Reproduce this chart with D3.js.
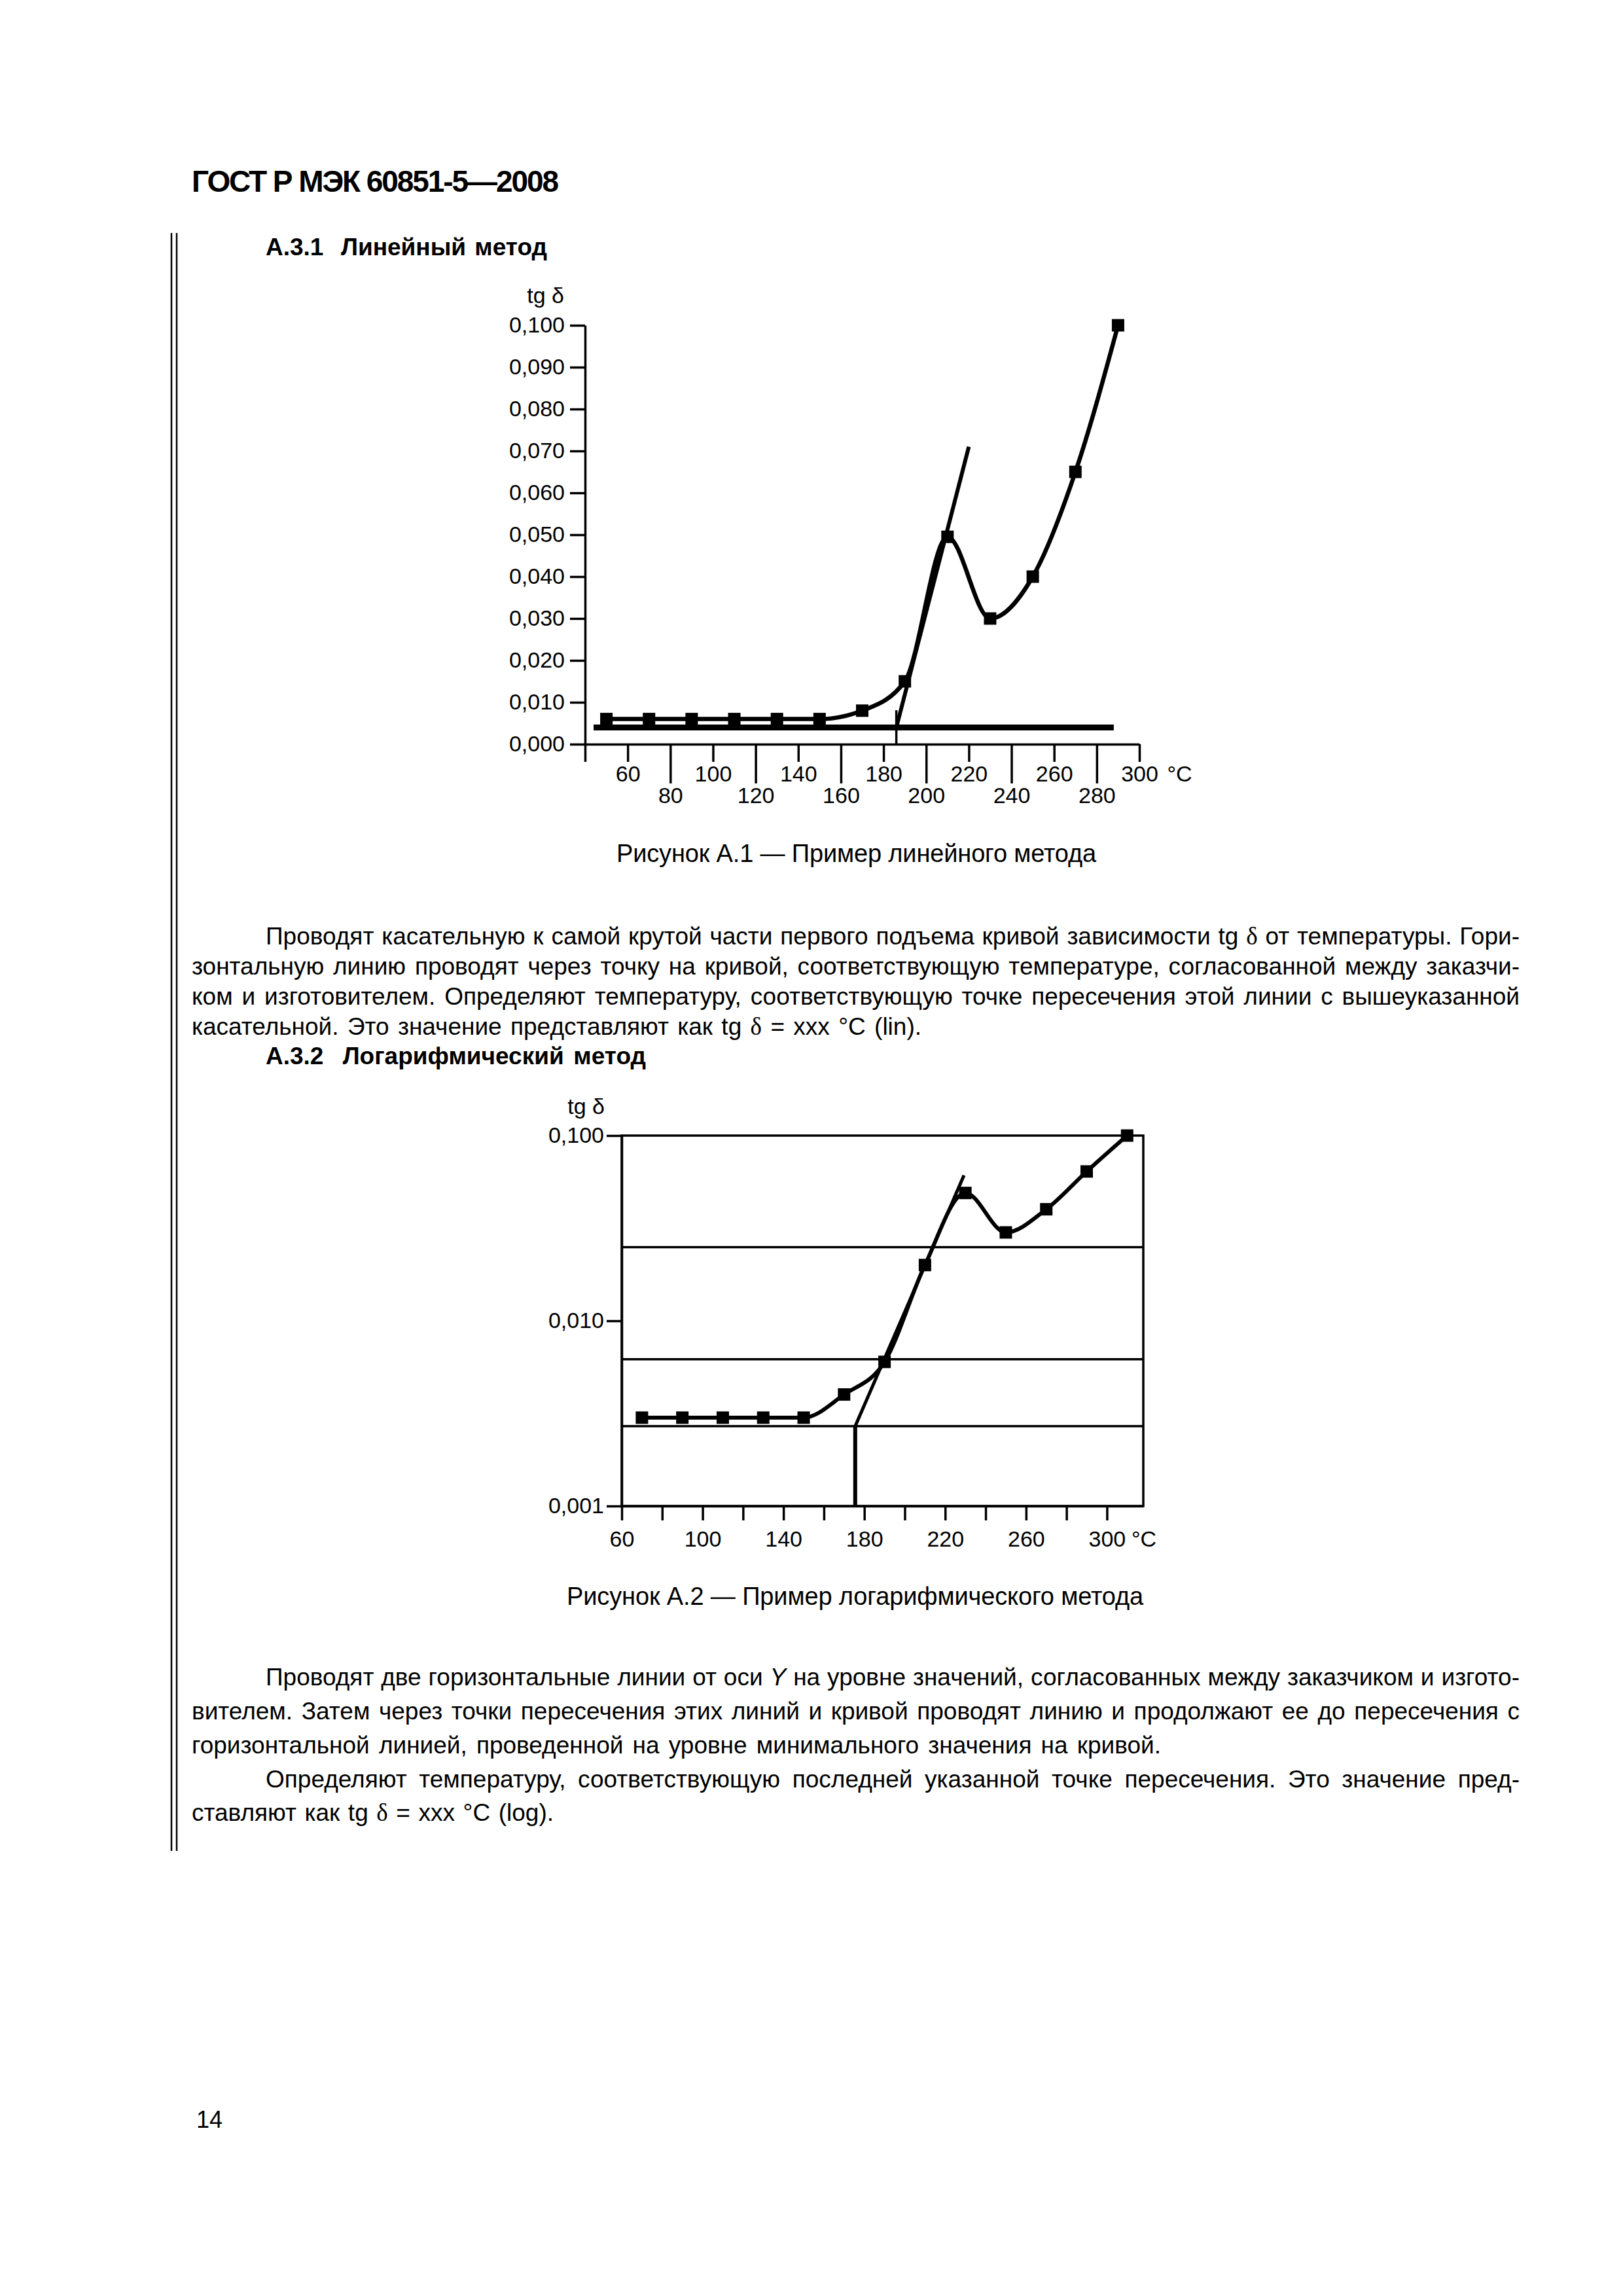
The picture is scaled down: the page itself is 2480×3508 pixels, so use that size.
<!DOCTYPE html>
<html lang="ru">
<head>
<meta charset="UTF-8">
<title>ГОСТ Р МЭК 60851-5—2008, с. 14</title>
<script src="https://d3js.org/d3.v7.min.js"></script>
<style>
  body { margin: 0; background: white; }
  svg { display: block; font-family: "Liberation Sans", Arial, Helvetica, sans-serif; }
  text { fill: black; white-space: pre; }
  .axis path, .axis line { stroke: black; stroke-width: 3.5; }
  .axis text { font-size: 34px; font-family: "Liberation Sans", Arial, sans-serif; fill: black; }
</style>
</head>
<body>
<svg id="page"></svg>
<script>
// --- Рисунок А.1, линейный метод ---
const linTemp = [50, 70, 90, 110, 130, 150, 170, 190, 210, 230, 250, 270, 290];
const linTgd = [0.006, 0.006, 0.006, 0.006, 0.006, 0.006, 0.008, 0.015, 0.0495, 0.030, 0.040, 0.065, 0.100];
const linTangentTemp = [186, 220];
const linTangentTgd = [0.004, 0.071];
const linBaseTemp = [44, 288];
const linBaseTgd = 0.004;
const linDropTemp = 186;
const linDropTgd = [0, 0.0081];
const linXTicks = [40, 60, 80, 100, 120, 140, 160, 180, 200, 220, 240, 260, 280, 300];
const linYTicks = [0, 0.01, 0.02, 0.03, 0.04, 0.05, 0.06, 0.07, 0.08, 0.09, 0.1];

// --- Рисунок А.2, логарифмический метод ---
const logTemp = [70, 90, 110, 130, 150, 170, 190, 210, 230, 250, 270, 290, 310];
const logTgd = [0.003, 0.003, 0.003, 0.003, 0.003, 0.004, 0.006, 0.020, 0.049, 0.030, 0.040, 0.064, 0.100];
const logLevels = [0.025, 0.0062];
const logMin = 0.0027;
const logTangentTemp = [175.5, 229.3];
const logTangentTgd = [0.0027, 0.061];
const logXTicks = [60, 80, 100, 120, 140, 160, 180, 200, 220, 240, 260, 280, 300];
const logXLabels = [60, 100, 140, 180, 220, 260, 300];
const logYTicks = [0.001, 0.01, 0.1];

const svg = d3.select("#page").attr("width", 2480).attr("height", 3508);
svg.append("rect").attr("width", 2480).attr("height", 3508).attr("fill", "white");

const fmt = d => d3.format(".3f")(d).replace(".", ",");
const BODY = 37;

// one line of text; *...* is italic, δ in a serif face.
// too long -> letters drawn closer, too short -> wider word gaps
function textLine(str, x, y, size, width, bold) {
    const t = svg.append("text").attr("x", x).attr("y", y)
        .attr("font-size", size).attr("font-weight", bold ? "bold" : null);
    str.split("*").forEach((seg, i) => {
        seg.split(/(δ)/).forEach(part => {
            if (!part) return;
            const ts = t.append("tspan").text(part);
            if (i % 2) ts.attr("font-style", "italic");
            if (part === "δ") ts.attr("font-family", "Liberation Serif, serif");
        });
    });
    if (width) {
        const natural = t.node().getComputedTextLength();
        const spaces = (str.match(/ /g) || []).length;
        const chars = str.replace(/\*/g, "").length;
        if (natural > width || !spaces) {
            t.attr("letter-spacing", (width - natural) / chars);
        } else {
            t.attr("word-spacing", (width - natural) / spaces);
        }
    }
    return t;
}

// page frame
svg.append("line").attr("x1", 262).attr("x2", 262).attr("y1", 356).attr("y2", 2828)
    .attr("stroke", "black").attr("stroke-width", 2.5);
svg.append("line").attr("x1", 270).attr("x2", 270).attr("y1", 356).attr("y2", 2828)
    .attr("stroke", "black").attr("stroke-width", 2.5);

textLine("ГОСТ Р МЭК 60851-5—2008", 293, 293, 46, 559, true);
textLine("А.3.1  Линейный метод", 406, 390, 37, 430, true);

// ---------- chart 1 ----------
const x1 = d3.scaleLinear().domain([40, 300]).range([894, 1741]);
const y1 = d3.scaleLinear().domain([0, 0.1]).range([1137, 497]);
const c1 = svg.append("g");

const xAx1 = c1.append("g").attr("class", "axis")
    .attr("transform", `translate(0,${y1(0)})`)
    .call(d3.axisBottom(x1).tickValues(linXTicks).tickSize(27).tickSizeOuter(0)
        .tickPadding(6).tickFormat(d => d === 40 ? "" : d));
// every second tick is long and its label sits on a lower row
xAx1.selectAll(".tick").filter(d => d % 40 === 0 && d !== 40)
    .call(t => t.select("line").attr("y2", 60))
    .call(t => t.select("text").attr("y", 66));
xAx1.selectAll(".tick").filter(d => d === 300).append("text")
    .attr("x", 42).attr("y", 33).attr("dy", "0.71em").attr("text-anchor", "start").text("°C");

c1.append("g").attr("class", "axis")
    .attr("transform", `translate(${x1(40)},0)`)
    .call(d3.axisLeft(y1).tickValues(linYTicks).tickSize(23).tickSizeOuter(0)
        .tickPadding(8).tickFormat(fmt));

c1.append("text").attr("x", 862).attr("y", 463).attr("text-anchor", "end")
    .attr("font-size", 34).text("tg δ");

c1.append("line")
    .attr("x1", x1(linBaseTemp[0])).attr("x2", x1(linBaseTemp[1]))
    .attr("y1", y1(linBaseTgd)).attr("y2", y1(linBaseTgd))
    .attr("stroke", "black").attr("stroke-width", 9);
c1.append("line")
    .attr("x1", x1(linDropTemp)).attr("x2", x1(linDropTemp))
    .attr("y1", y1(linDropTgd[0])).attr("y2", y1(linDropTgd[1]))
    .attr("stroke", "black").attr("stroke-width", 3.5);
c1.append("line")
    .attr("x1", x1(linTangentTemp[0])).attr("x2", x1(linTangentTemp[1]))
    .attr("y1", y1(linTangentTgd[0])).attr("y2", y1(linTangentTgd[1]))
    .attr("stroke", "black").attr("stroke-width", 6);

const linPts = linTemp.map((t, i) => [t, linTgd[i]]);
c1.append("path").datum(linPts)
    .attr("fill", "none").attr("stroke", "black").attr("stroke-width", 6.5)
    .attr("d", d3.line().x(d => x1(d[0])).y(d => y1(d[1])).curve(d3.curveMonotoneX));
c1.selectAll("rect.mk").data(linPts).join("rect").attr("class", "mk")
    .attr("x", d => x1(d[0]) - 9.5).attr("y", d => y1(d[1]) - 9.5)
    .attr("width", 19).attr("height", 19).attr("fill", "black");

textLine("Рисунок А.1 — Пример линейного метода", 942, 1317, 38, 733);

// ---------- text A.3.1 ----------
textLine("Проводят касательную к самой крутой части первого подъема кривой зависимости tg δ от температуры. Гори-", 406, 1443, BODY, 1916);
textLine("зонтальную линию проводят через точку на кривой, соответствующую температуре, согласованной между заказчи-", 293, 1489, BODY, 2029);
textLine("ком и изготовителем. Определяют температуру, соответствующую точке пересечения этой линии с вышеуказанной", 293, 1535, BODY, 2029);
textLine("касательной. Это значение представляют как tg δ = xxx °C (lin).", 293, 1581, BODY, 1115);
textLine("А.3.2  Логарифмический метод", 406, 1626, 37, 581, true);

// ---------- chart 2 ----------
const x2 = d3.scaleLinear().domain([60, 318]).range([950, 1747]);
const y2 = d3.scaleLog().domain([0.001, 0.1]).range([2301, 1735]);
const c2 = svg.append("g");

c2.append("rect").attr("x", x2(60)).attr("y", y2(0.1))
    .attr("width", x2(318) - x2(60)).attr("height", y2(0.001) - y2(0.1))
    .attr("fill", "none").attr("stroke", "black").attr("stroke-width", 3.5);
c2.selectAll("line.lvl").data(logLevels.concat([logMin])).join("line").attr("class", "lvl")
    .attr("x1", x2(60)).attr("x2", x2(318))
    .attr("y1", d => y2(d)).attr("y2", d => y2(d))
    .attr("stroke", "black").attr("stroke-width", 3.5);

const xAx2 = c2.append("g").attr("class", "axis")
    .attr("transform", `translate(0,${y2(0.001)})`)
    .call(d3.axisBottom(x2).tickValues(logXTicks).tickSize(22).tickSizeOuter(0)
        .tickPadding(16).tickFormat(d => logXLabels.includes(d) ? d : ""));
xAx2.selectAll(".tick").filter(d => d === 300).append("text")
    .attr("x", 37).attr("y", 38).attr("dy", "0.71em").attr("text-anchor", "start").text("°C");

c2.append("g").attr("class", "axis")
    .attr("transform", `translate(${x2(60)},0)`)
    .call(d3.axisLeft(y2).tickValues(logYTicks).tickSize(23).tickSizeOuter(0)
        .tickPadding(4).tickFormat(fmt));

c2.append("text").attr("x", 924).attr("y", 1702).attr("text-anchor", "end")
    .attr("font-size", 34).text("tg δ");

c2.append("line")
    .attr("x1", x2(logTangentTemp[0])).attr("x2", x2(logTangentTemp[0]))
    .attr("y1", y2(logTangentTgd[0])).attr("y2", y2(0.001))
    .attr("stroke", "black").attr("stroke-width", 6);
c2.append("line")
    .attr("x1", x2(logTangentTemp[0])).attr("x2", x2(logTangentTemp[1]))
    .attr("y1", y2(logTangentTgd[0])).attr("y2", y2(logTangentTgd[1]))
    .attr("stroke", "black").attr("stroke-width", 5);

const logPts = logTemp.map((t, i) => [t, logTgd[i]]);
c2.append("path").datum(logPts)
    .attr("fill", "none").attr("stroke", "black").attr("stroke-width", 6)
    .attr("d", d3.line().x(d => x2(d[0])).y(d => y2(d[1])).curve(d3.curveMonotoneX));
c2.selectAll("rect.mk").data(logPts).join("rect").attr("class", "mk")
    .attr("x", d => x2(d[0]) - 9.5).attr("y", d => y2(d[1]) - 9.5)
    .attr("width", 19).attr("height", 19).attr("fill", "black");

textLine("Рисунок А.2 — Пример логарифмического метода", 866, 2452, 38, 881);

// ---------- text A.3.2 ----------
textLine("Проводят две горизонтальные линии от оси *Y* на уровне значений, согласованных между заказчиком и изгото-", 406, 2575, BODY, 1916);
textLine("вителем. Затем через точки пересечения этих линий и кривой проводят линию и продолжают ее до пересечения с", 293, 2627, BODY, 2029);
textLine("горизонтальной линией, проведенной на уровне минимального значения на кривой.", 293, 2679, BODY, 1481);
textLine("Определяют температуру, соответствующую последней указанной точке пересечения. Это значение пред-", 406, 2731, BODY, 1916);
textLine("ставляют как tg δ = xxx °C (log).", 293, 2782, BODY, 553);

textLine("14", 300, 3251, 36);
</script>
</body>
</html>
